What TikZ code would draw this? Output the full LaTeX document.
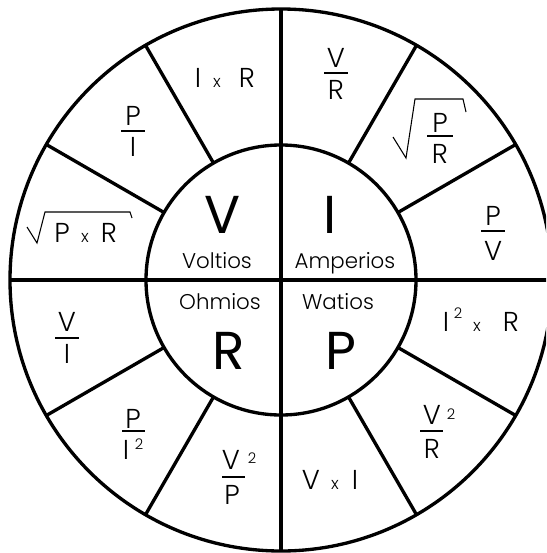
\documentclass[tikz,border=0pt]{standalone}
\usepackage{fontspec}
\newfontfamily\thinf{Poppins Light}
\newfontfamily\bigf{Poppins}
\tikzset{
  ring/.style={line width=2.5pt},
  bar/.style={line width=0.9pt},
  rad/.style={line width=0.8pt, line join=miter},
  frm/.style={font=\thinf\fontsize{20.5}{20.5}\selectfont, inner sep=0pt, anchor=base},
  tms/.style={font=\thinf\fontsize{12.5}{12.5}\selectfont, inner sep=0pt, anchor=base},
  sup/.style={font=\thinf\fontsize{11}{11}\selectfont, inner sep=0pt, anchor=base},
  lbl/.style={font=\thinf\fontsize{16}{16}\selectfont, inner sep=0pt, anchor=base},
  big/.style={font=\bigf\fontsize{40}{40}\selectfont, inner sep=0pt, anchor=base},
}
\begin{document}
\begin{tikzpicture}[x=0.75pt,y=-0.75pt]
\clip (0,0) rectangle (546,553);
\fill[white] (0,0) rectangle (546,553);
\coordinate (C) at (281,280);
% circles and axes
\draw[ring] (C) circle[radius=203.25pt];
\draw[ring] (C) circle[radius=101.25pt];
\draw[ring] ([xshift=-203.25pt]C) -- ([xshift=203.25pt]C);
\draw[ring] ([yshift=-203.25pt]C) -- ([yshift=203.25pt]C);
\foreach \a in {30,60,120,150,210,240,300,330}
  \draw[ring] ([shift={(\a:101.25pt)}]C) -- ([shift={(\a:203.25pt)}]C);
% centre quadrants
\node[big] (bV) at (223,233) {V};
\node[big] (bI) at (330,233) {I};
\node[big] (bR) at (229,369) {R};
\node[big] (bP) at (341,369) {P};
\node[lbl] (lV) at (217,268) {Voltios};
\node[lbl] (lI) at (345,268) {Amperios};
\node[lbl] (lR) at (220,309) {Ohmios};
\node[lbl] (lP) at (338,309) {Watios};
% I x R
\node[frm] (a1) at (198,87) {I};
\node[tms] (a2) at (217,87) {x};
\node[frm] (a3) at (247,87) {R};
% V / R
\node[frm] (b1) at (336,67) {V};
\draw[bar] (324,73) -- (348,73);
\node[frm] (b2) at (336,99) {R};
% P / I
\node[frm] (c1) at (133,125) {P};
\draw[bar] (121,131) -- (145,131);
\node[frm] (c2) at (133,156) {I};
% sqrt(P/R)
\draw[rad] (393,137) -- (406,158) -- (415,99) -- (463,99) -- (466,112);
\node[frm] (d1) at (440,132) {P};
\draw[bar] (427,136) -- (453,136);
\node[frm] (d2) at (440,163) {R};
% sqrt(P x R)
\draw[rad] (27,227) -- (37,243) -- (45,212) -- (130,212) -- (132,218);
\node[frm] (e1) at (62,242) {P};
\node[tms] (e2) at (85,242) {x};
\node[frm] (e3) at (109,242) {R};
% P / V
\node[frm] (f1) at (493,225) {P};
\draw[bar] (481,231) -- (505,231);
\node[frm] (f2) at (493,260) {V};
% V / I
\node[frm] (g1) at (67,331) {V};
\draw[bar] (55,338) -- (79,338);
\node[frm] (g2) at (67,363) {I};
% I^2 x R
\node[frm] (h1) at (446,331) {I};
\node[sup] (h2) at (458,318) {2};
\node[tms] (h3) at (477,331) {x};
\node[frm] (h4) at (511,331) {R};
% P / I^2
\node[frm] (i1) at (133,428) {P};
\draw[bar] (122,431) -- (145,431);
\node[frm] (i2) at (126,459) {I};
\node[sup] (i3) at (139,449) {2};
% V^2 / P
\node[frm] (j1) at (231,469) {V};
\node[sup] (j2) at (252,463) {2};
\draw[bar] (222,477) -- (245,477);
\node[frm] (j3) at (232,504) {P};
% V^2 / R
\node[frm] (k1) at (432,424) {V};
\node[sup] (k2) at (451,419) {2};
\draw[bar] (420,431) -- (443,431);
\node[frm] (k3) at (432,458) {R};
% V x I
\node[frm] (m1) at (311,489) {V};
\node[tms] (m2) at (335,489) {x};
\node[frm] (m3) at (355,489) {I};
\end{tikzpicture}
\end{document}
